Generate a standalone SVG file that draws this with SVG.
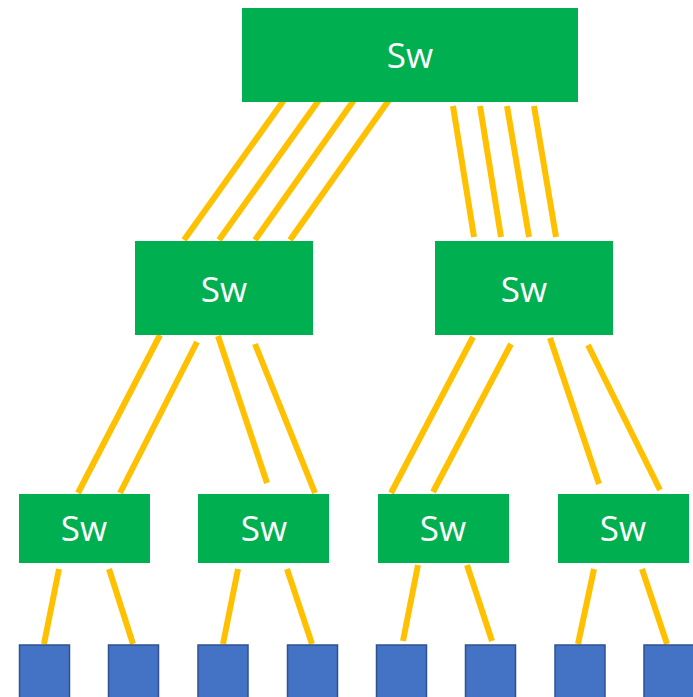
<svg xmlns="http://www.w3.org/2000/svg" width="693" height="697" viewBox="0 0 693 697">
  <style>
    .sw { fill: #00B050; }
    .host { fill: #4472C4; stroke: #2F528F; stroke-width: 1.5; }
    .lbl { fill: #FFFFFF; font-family: "Open Sans", "Noto Sans", "DejaVu Sans", sans-serif; font-size: 35px; text-anchor: middle; }
    .link { stroke: #FFC000; stroke-width: 6; stroke-linecap: butt; fill: none; }
  </style>
  <rect width="693" height="697" fill="#FFFFFF"/>

  <!-- cabling -->
  <g id="links">
    <!-- core to left aggregation -->
    <line class="link" x1="284" y1="100" x2="184" y2="240"/>
    <line class="link" x1="319" y1="100" x2="219" y2="240"/>
    <line class="link" x1="354" y1="100" x2="255" y2="240"/>
    <line class="link" x1="389" y1="100" x2="290" y2="240"/>
    <!-- core to right aggregation -->
    <line class="link" x1="453" y1="106" x2="474" y2="237"/>
    <line class="link" x1="480" y1="106" x2="501" y2="237"/>
    <line class="link" x1="507" y1="106" x2="529" y2="237"/>
    <line class="link" x1="534" y1="106" x2="556" y2="237"/>
    <!-- left aggregation to edge -->
    <line class="link" x1="160" y1="335" x2="78" y2="493"/>
    <line class="link" x1="197" y1="342" x2="120" y2="493"/>
    <line class="link" x1="218" y1="336" x2="267" y2="483"/>
    <line class="link" x1="255" y1="344" x2="315" y2="493"/>
    <!-- right aggregation to edge -->
    <line class="link" x1="473" y1="337" x2="391" y2="493"/>
    <line class="link" x1="511" y1="344" x2="433" y2="492"/>
    <line class="link" x1="550" y1="338" x2="599" y2="484"/>
    <line class="link" x1="588" y1="345" x2="660" y2="490"/>
    <!-- edge to hosts -->
    <line class="link" x1="59" y1="569" x2="44" y2="644"/>
    <line class="link" x1="109" y1="569" x2="133" y2="644"/>
    <line class="link" x1="238" y1="569" x2="223" y2="644"/>
    <line class="link" x1="287" y1="569" x2="312" y2="644"/>
    <line class="link" x1="418" y1="565" x2="403" y2="641"/>
    <line class="link" x1="467" y1="565" x2="492" y2="641"/>
    <line class="link" x1="594" y1="569" x2="578" y2="644"/>
    <line class="link" x1="642" y1="569" x2="667" y2="644"/>
  </g>

  <!-- core switch -->
  <g id="core">
    <rect class="sw" x="242" y="8" width="336" height="94"/>
    <text class="lbl" x="410" y="68">Sw</text>
  </g>

  <!-- aggregation switches -->
  <g id="agg-left">
    <rect class="sw" x="135" y="241" width="178" height="94"/>
    <text class="lbl" x="224" y="302">Sw</text>
  </g>
  <g id="agg-right">
    <rect class="sw" x="435" y="241" width="178" height="94"/>
    <text class="lbl" x="524" y="302">Sw</text>
  </g>

  <!-- edge switches -->
  <g id="edge-1">
    <rect class="sw" x="19" y="494" width="131" height="69"/>
    <text class="lbl" x="84" y="541">Sw</text>
  </g>
  <g id="edge-2">
    <rect class="sw" x="198" y="494" width="131" height="69"/>
    <text class="lbl" x="264" y="541">Sw</text>
  </g>
  <g id="edge-3">
    <rect class="sw" x="378" y="494" width="131" height="69"/>
    <text class="lbl" x="443" y="541">Sw</text>
  </g>
  <g id="edge-4">
    <rect class="sw" x="558" y="494" width="131" height="69"/>
    <text class="lbl" x="623" y="541">Sw</text>
  </g>

  <!-- hosts -->
  <g id="host-1"><rect class="host" x="19.5" y="645" width="50" height="55"/></g>
  <g id="host-2"><rect class="host" x="108.5" y="645" width="50" height="55"/></g>
  <g id="host-3"><rect class="host" x="198" y="645" width="50" height="55"/></g>
  <g id="host-4"><rect class="host" x="287.5" y="645" width="50" height="55"/></g>
  <g id="host-5"><rect class="host" x="376.5" y="645" width="50" height="55"/></g>
  <g id="host-6"><rect class="host" x="465.5" y="645" width="50" height="55"/></g>
  <g id="host-7"><rect class="host" x="555" y="645" width="50" height="55"/></g>
  <g id="host-8"><rect class="host" x="644" y="645" width="50" height="55"/></g>
</svg>
